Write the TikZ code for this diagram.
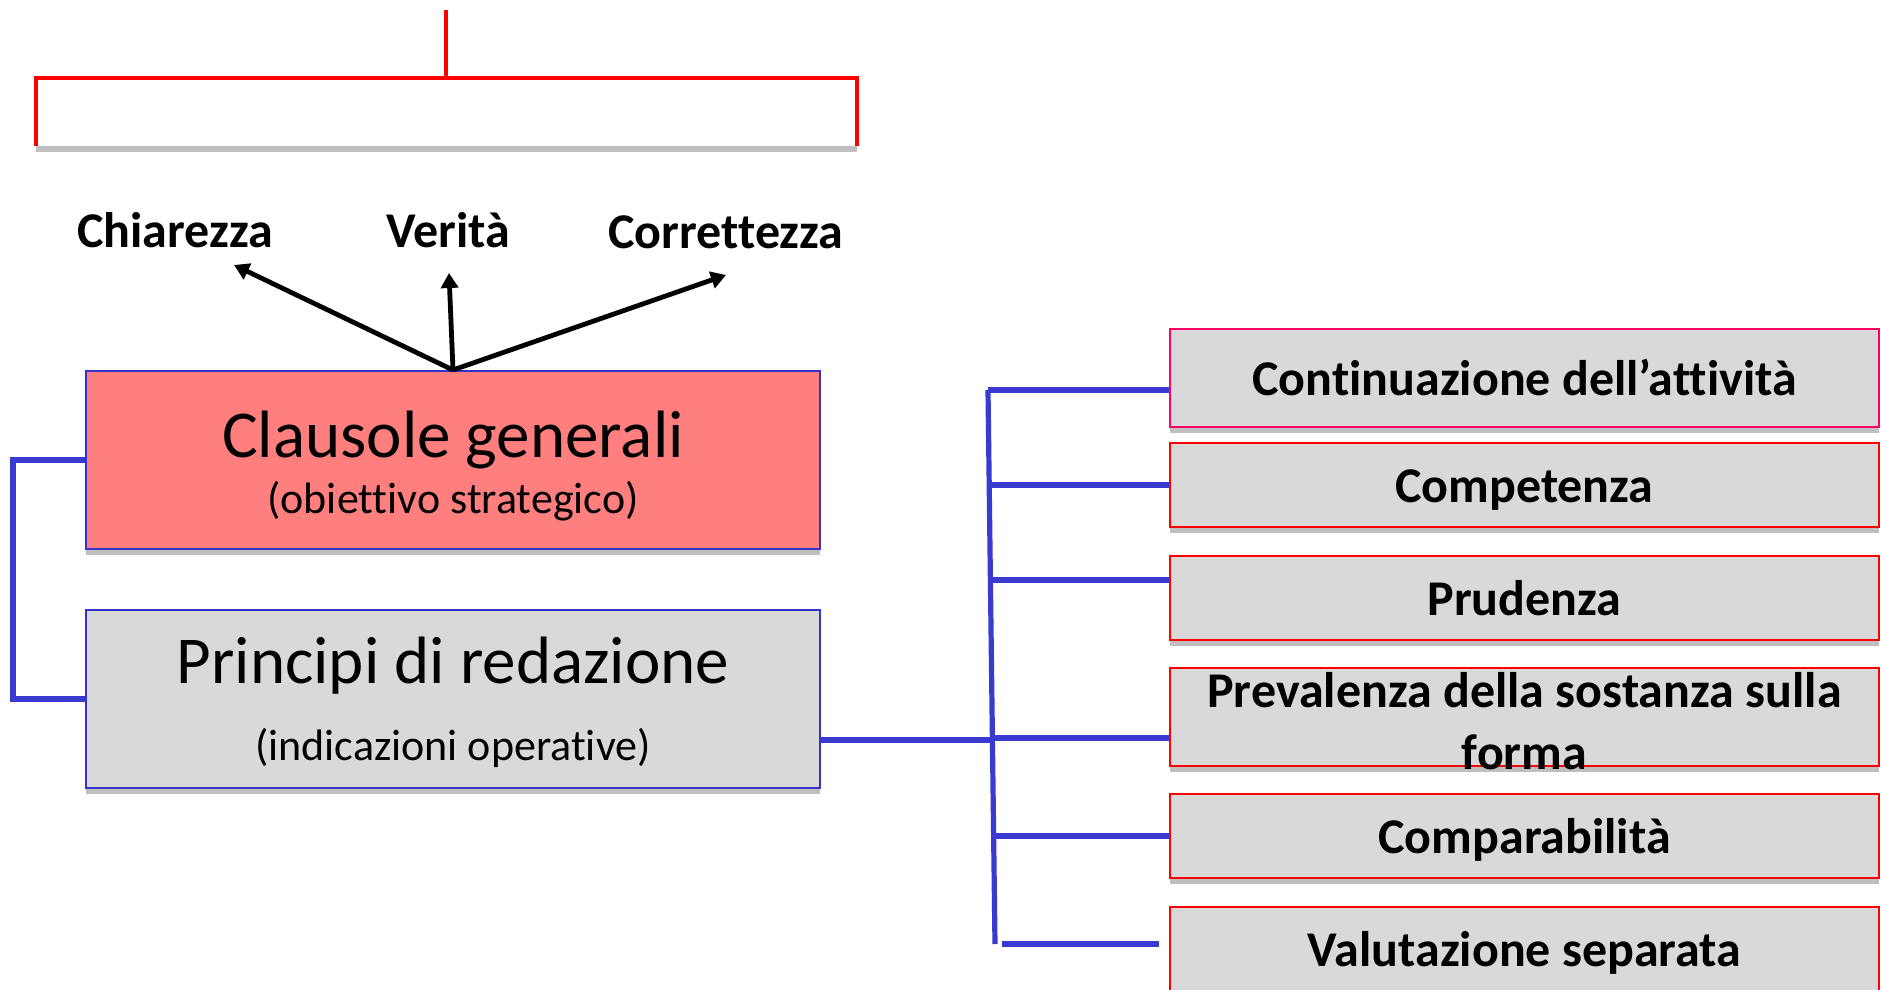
\documentclass[tikz,border=0pt]{standalone}
\usepackage{fontspec}
\setmainfont{Carlito}[Ligatures={TeX,NoCommon}]
\usetikzlibrary{shadows}
\usetikzlibrary{positioning}
\usetikzlibrary{arrows.meta}
\usetikzlibrary{calc}

\definecolor{boxblue}{RGB}{51,51,204}
\definecolor{boxpink}{RGB}{255,127,127}
\definecolor{boxgrey}{RGB}{217,217,217}
\definecolor{linkblue}{RGB}{58,58,208}
\definecolor{hotred}{RGB}{255,0,102}

\begin{document}
\begin{tikzpicture}
  [x=0.5pt,y=-0.5pt,
  shadowed/.style={drop shadow={shadow xshift=0pt,shadow yshift=-3pt,opacity=0.25,fill=black}},
  leftbox/.style={rectangle,draw=boxblue,line width=1pt,minimum width=367pt,minimum height=89pt,inner sep=0pt,shadowed},
  rightbox/.style={rectangle,draw=red,fill=boxgrey,line width=1pt,minimum width=354.5pt,inner sep=0pt,text height=22pt,text depth=5pt,shadowed,font=\fontsize{25}{31}\selectfont\bfseries},
  goal/.style={font=\fontsize{25}{30}\selectfont\bfseries,anchor=base},
  title/.style={font=\fontsize{33.5}{40}\selectfont,anchor=base},
  subtitle/.style={font=\fontsize{22}{26}\selectfont,anchor=base},
  blueline/.style={linkblue,line width=2.6pt},
  redline/.style={red,line width=2.4pt},
  goalarrow/.style={-{Triangle[length=7.5pt,width=8.5pt]},line width=2.4pt}]
  \useasboundingbox (0,0) rectangle (1881,990);

  % top bracket
  \fill[white,shadowed] (36,78) rectangle (857,146);
  \draw[redline] (36,146) -- (36,78) -- (857,78) -- (857,146);
  \draw[redline] (446,78) -- (446,10);

  \node[goal] (chiarezza) at (175,248) {Chiarezza};
  \node[goal] (verita) at (448,248) {Verità};
  \node[goal] (correttezza) at (726,249) {Correttezza};

  % left boxes
  \node[leftbox,fill=boxpink] (clausole) at (453,460) {};
  \node[title] (clausoleA) at (453,457) {Clausole generali};
  \node[subtitle] (clausoleB) at (453,513) {(obiettivo strategico)};

  \node[leftbox,fill=boxgrey] (principi) at (453,699) {};
  \node[title] (principiA) at (453,683) {Principi di redazione};
  \node[subtitle] (principiB) at (453,760) {(indicazioni operative)};

  \coordinate (tipC) at (234,265);
  \coordinate (tipV) at (449,273);
  \coordinate (tipR) at (726,275);
  \draw[goalarrow] (clausole.north) -- (tipC);
  \draw[goalarrow] (clausole.north) -- (tipV);
  \draw[goalarrow] (clausole.north) -- (tipR);

  \draw[blueline] (clausole.west) -- ++(-72,0) |- (principi.west);

  % right boxes
  \node[rightbox,draw=hotred,minimum height=49pt] (cont) at (1524.5,378) {Continuazione dell’attività};
  \node[rightbox,minimum height=42pt] (comp) at (1524.5,485) {Competenza};
  \node[rightbox,minimum height=42pt] (prud) at (1524.5,598) {Prudenza};
  \node[rightbox,minimum height=49pt,label={[align=center,font=\fontsize{25}{31}\selectfont\bfseries,yshift=-2pt]center:Prevalenza della sostanza sulla\\forma}] (prev) at (1524.5,717) {};
  \node[rightbox,minimum height=42pt] (compa) at (1524.5,836) {Comparabilità};
  \node[rightbox,minimum height=42pt] (val) at (1524.5,949) {Valutazione separata};

  % bus
  \coordinate (busT) at (988,390);
  \coordinate (busB) at (995,944);
  \coordinate (hub) at ($(busT)!{(740-390)/554}!(busB)$);
  \draw[blueline] (busT) -- (busB);
  \draw[blueline] (principi.east |- hub) -- (hub);
  \foreach \b/\y in {cont/390,comp/485,prud/580,prev/738,compa/836}{
    \coordinate (j\b) at ($(busT)!{(\y-390)/554}!(busB)$);
    \draw[blueline] (j\b) -- (\b.west |- j\b);
  }
  \draw[blueline] ($(busB)+(7,0)$) -- ($(val.west |- busB)+(-10,0)$);
\end{tikzpicture}
\end{document}
